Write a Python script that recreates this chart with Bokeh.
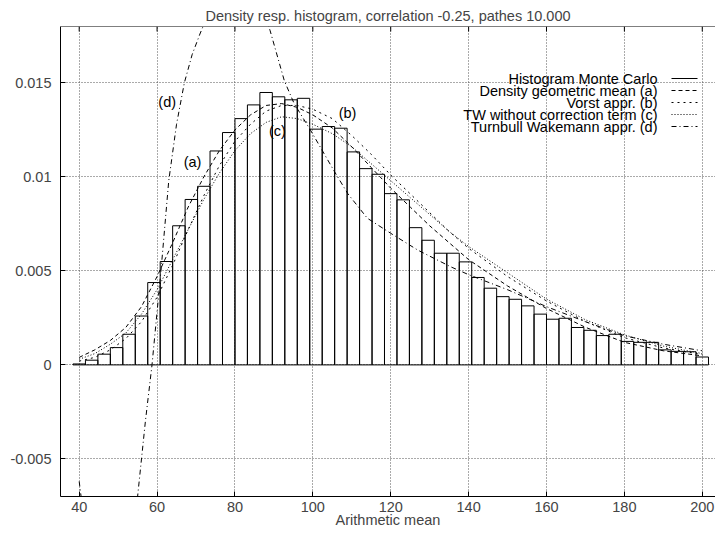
from bokeh.plotting import figure
from bokeh.models import FixedTicker, Span
from bokeh.embed import file_html
from bokeh.resources import INLINE
from bokeh.core.properties import value

FONT = "Liberation Sans"
FS = "14.5px"

title_text = "Density resp. histogram, correlation -0.25, pathes 10.000"
x_label = "Arithmetic mean"

# histogram (Monte Carlo)
bin_centers = [40.0, 43.2, 46.4, 49.6, 52.8, 56.0, 59.2, 62.4, 65.6, 68.8,
               72.0, 75.2, 78.4, 81.6, 84.8, 88.0, 91.2, 94.4, 97.6, 100.8,
               104.0, 107.2, 110.4, 113.6, 116.8, 120.0, 123.2, 126.4, 129.6, 132.8,
               136.0, 139.2, 142.4, 145.6, 148.8, 152.0, 155.2, 158.4, 161.6, 164.8,
               168.0, 171.2, 174.4, 177.6, 180.8, 184.0, 187.2, 190.4, 193.6, 196.8,
               200.0]
bin_width = 3.2
hist_values = [0.00005, 0.00025, 0.00057, 0.00092, 0.00163, 0.0026, 0.00438, 0.0055, 0.0074, 0.0088,
               0.0095, 0.01138, 0.01236, 0.0131, 0.01383, 0.01449, 0.01426, 0.0141, 0.01418, 0.01254,
               0.01268, 0.01259, 0.01133, 0.01044, 0.01014, 0.00911, 0.00878, 0.0073, 0.00663, 0.00594,
               0.00594, 0.00548, 0.00465, 0.00408, 0.00363, 0.00349, 0.00314, 0.0027, 0.00243, 0.00248,
               0.00199, 0.00184, 0.00156, 0.00163, 0.00125, 0.0012, 0.0012, 0.0008, 0.00072, 0.0007,
               0.00042]

# smooth approximations
curve_x = [40, 44, 48, 52, 56, 60, 64, 68, 72, 76, 80, 84, 88, 92, 96, 100,
           105, 110, 115, 120, 125, 130, 135, 140, 150, 160, 170, 180, 190, 200]
geo_mean_a = [0.0004, 0.0008, 0.0013, 0.0020, 0.0031, 0.0047, 0.0065, 0.0084, 0.0100, 0.0114,
              0.0125, 0.0133, 0.0138, 0.0139, 0.0137, 0.0133, 0.0126, 0.0116, 0.0105, 0.0094,
              0.0084, 0.0074, 0.0065, 0.0056, 0.0042, 0.0030, 0.0020, 0.0012, 0.00075, 0.00048]
vorst_b = [0.0002, 0.0004, 0.0008, 0.0014, 0.0023, 0.0036, 0.0053, 0.0072, 0.0090, 0.0106,
           0.0119, 0.0128, 0.0135, 0.0138, 0.0138, 0.0136, 0.0131, 0.0122, 0.0112, 0.0101,
           0.0091, 0.0081, 0.0071, 0.0062, 0.0047, 0.0034, 0.0023, 0.00145, 0.0009, 0.00055]
tw_plain_c = [0.0003, 0.0006, 0.0011, 0.0017, 0.0027, 0.0040, 0.0056, 0.0072, 0.0088, 0.0102,
              0.0114, 0.0123, 0.0129, 0.0132, 0.0131, 0.0128, 0.0123, 0.0116, 0.0107, 0.0098,
              0.0089, 0.0080, 0.0071, 0.0063, 0.0049, 0.0035, 0.0024, 0.0016, 0.0010, 0.0006]
tw_x = [40, 42, 46, 50, 53, 55, 57, 58.7, 61, 63, 65, 67, 69, 71, 73, 77, 82, 86, 89,
        92.7, 95.2, 99.5, 105.5, 109, 114, 120, 127, 135.6, 140, 150, 160, 170, 180, 190, 200]
tw_corr_d = [-0.0062, -0.0095, -0.0125, -0.0125, -0.0100, -0.0070, -0.0030, 0.0, 0.0050, 0.0098,
             0.0128, 0.0150, 0.0165, 0.0176, 0.0186, 0.0200, 0.0205, 0.0196, 0.0178,
             0.0151, 0.0139, 0.01245, 0.0103, 0.0091, 0.0078, 0.0070, 0.0061, 0.0052, 0.0048,
             0.0040, 0.0031, 0.0023, 0.00155, 0.0011, 0.00075]

legend_labels = ["Histogram Monte Carlo", "Density geometric mean (a)", "Vorst appr. (b)",
                 "TW without correction term (c)", "Turnbull Wakemann appr. (d)"]
curve_tags = ["(a)", "(b)", "(c)", "(d)"]
tag_x = [69.1, 108.9, 90.9, 62.6]
tag_y = [0.0108, 0.0134, 0.01245, 0.0140]

x_ticks = [40, 60, 80, 100, 120, 140, 160, 180, 200]
y_ticks = [-0.005, 0, 0.005, 0.01, 0.015]
y_tick_labels = ["-0.005", "0", "0.005", "0.01", "0.015"]

X_RANGE = (35.2, 203.4)
Y_RANGE = (-0.007, 0.018)
W, H = 715, 534
LEFT, RIGHT, TOP, BOTTOM = 60, 0, 26, 38
FW, FH = W - LEFT - RIGHT, H - TOP - BOTTOM

p = figure(width=W, height=H, x_range=X_RANGE, y_range=Y_RANGE,
           output_backend="svg", toolbar_location=None,
           min_border_left=LEFT, min_border_right=RIGHT,
           min_border_top=TOP, min_border_bottom=BOTTOM,
           title=title_text)
p.outline_line_color = None
p.background_fill_color = "white"
p.border_fill_color = "white"

p.title.text_font = FONT
p.title.text_font_size = FS
p.title.text_font_style = "normal"
p.title.align = "center"
p.title.offset = 3
p.title.standoff = 6

for ax in (p.xaxis[0], p.yaxis[0]):
    ax.major_label_text_font = FONT
    ax.major_label_text_font_size = FS
    ax.major_tick_in = 5
    ax.major_tick_out = 0
    ax.minor_tick_in = 0
    ax.minor_tick_out = 0
    ax.axis_line_color = "black"
    ax.major_tick_line_color = "black"

p.xaxis.ticker = FixedTicker(ticks=x_ticks)
p.yaxis.ticker = FixedTicker(ticks=y_ticks)
p.yaxis.major_label_overrides = {t: s for t, s in zip(y_ticks, y_tick_labels)}
p.yaxis.major_label_standoff = 9
p.xaxis.major_label_standoff = 5
p.xaxis.axis_label = x_label
p.xaxis.axis_label_text_font = FONT
p.xaxis.axis_label_text_font_size = FS
p.xaxis.axis_label_text_font_style = "normal"
p.xaxis.axis_label_standoff = -3

p.xgrid.ticker = FixedTicker(ticks=x_ticks)
p.ygrid.ticker = FixedTicker(ticks=y_ticks)
for g in (p.xgrid[0], p.ygrid[0]):
    g.grid_line_color = "#555555"
    g.grid_line_dash = "1 2"
    g.grid_line_width = 1

# top border with mirrored ticks
p.add_layout(Span(location=Y_RANGE[1], dimension="width", line_color="black", line_width=1))
tick_len = 5 / FH * (Y_RANGE[1] - Y_RANGE[0])
p.segment(x0=x_ticks, x1=x_ticks, y0=[Y_RANGE[1]] * len(x_ticks),
          y1=[Y_RANGE[1] - tick_len] * len(x_ticks), line_color="black", line_width=1)

# histogram boxes
p.vbar(x=bin_centers, width=bin_width, top=hist_values, bottom=0,
       fill_alpha=0, line_color="black", line_width=1)

styles = ["4 3", "2 4", "1 2", "5 3 1 3"]
series = [(curve_x, geo_mean_a), (curve_x, vorst_b), (curve_x, tw_plain_c), (tw_x, tw_corr_d)]
for (xs, ys), dash in zip(series, styles):
    p.line(xs, ys, line_color="black", line_width=1, line_dash=dash)

p.text(x=tag_x, y=tag_y, text=curve_tags, text_font=value(FONT), text_font_size=FS,
       text_align="center", text_baseline="middle", text_color="black")


def px_to_data(fx, fy):
    xd = X_RANGE[0] + fx / FW * (X_RANGE[1] - X_RANGE[0])
    yd = Y_RANGE[1] - fy / FH * (Y_RANGE[1] - Y_RANGE[0])
    return xd, yd


# custom key: text right-aligned, sample to the right
rows_fy = [52, 64, 76, 88, 100]
text_right_fx = 597
samp_fx = (611, 637)
key_dashes = [None] + styles
for label, fy, dash in zip(legend_labels, rows_fy, key_dashes):
    tx, ty = px_to_data(text_right_fx, fy)
    p.text(x=[tx], y=[ty], text=[label], text_font=value(FONT), text_font_size=FS,
           text_align="right", text_baseline="middle", text_color="black")
    x0, _ = px_to_data(samp_fx[0], fy)
    x1, _ = px_to_data(samp_fx[1], fy)
    kw = {} if dash is None else {"line_dash": dash}
    p.line([x0, x1], [ty, ty], line_color="black", line_width=1, **kw)

open("out.html", "w").write(file_html(p, INLINE))
